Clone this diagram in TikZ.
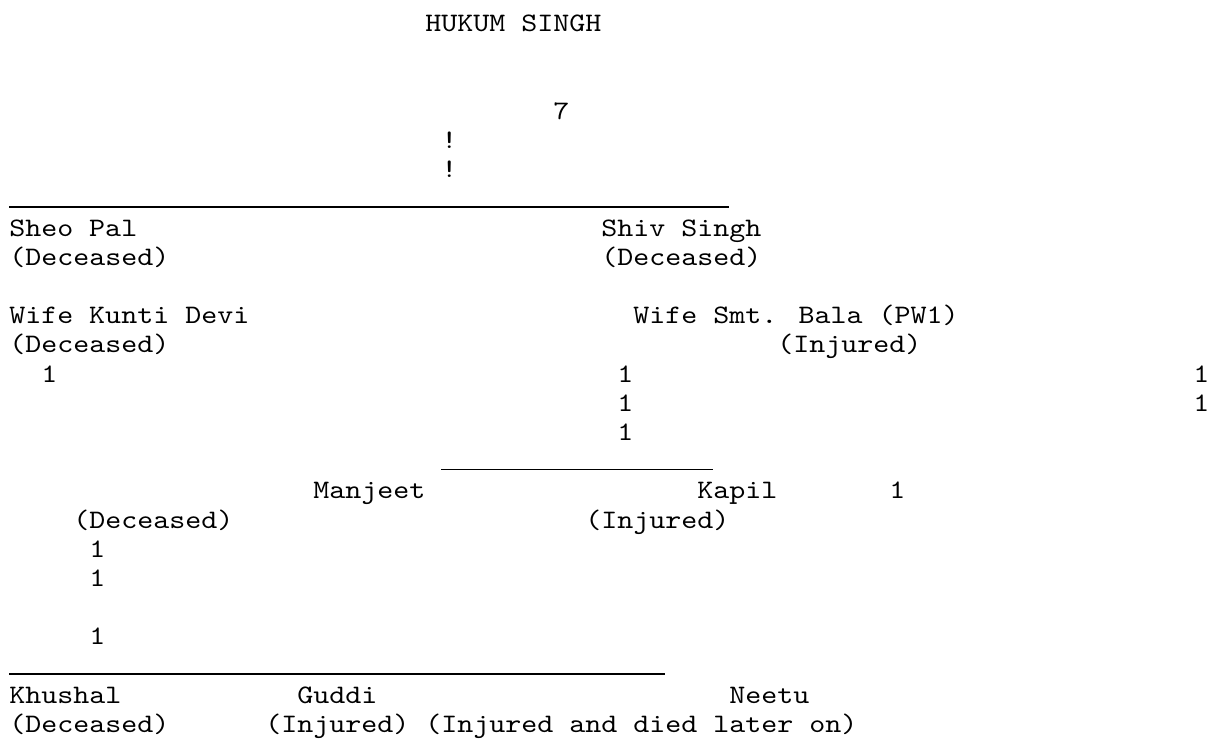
\documentclass[tikz,border=0pt]{standalone}
\usepackage{fontspec}
\newfontfamily\typewriter[FakeStretch=1.143]{lmmono10-regular.otf}
\tikzset{
  txt/.style={anchor=base west, inner sep=0pt, font=\typewriter\fontsize{20pt}{24pt}\selectfont},
  rule/.style={line width=1.1pt}
}
\begin{document}
\begin{tikzpicture}[x=12pt, y=-21.9pt]
  % one unit = one character column / one text row
  \useasboundingbox (-0.5625,-8.082) rectangle (75.1875,17.26);

  \node[txt] (hukum) at (26,-7) {HUKUM SINGH};
  \node[txt] (seven) at (34,-4) {7};
  \node[txt] (bang1) at (27,-3) {!};
  \node[txt] (bang2) at (27,-2) {!};

  \coordinate (top1) at (0,-1);
  \coordinate (top2) at (45,-1);
  \draw[rule] (top1) -- (top2);

  \node[txt] (sheopal) at (0,0) {Sheo Pal};
  \node[txt] (shivsingh) at (37,0) {Shiv Singh};
  \node[txt] (sheopaldec) at (0,1) {(Deceased)};
  \node[txt] (shivsinghdec) at (37,1) {(Deceased)};
  \node[txt] (kunti) at (0,3) {Wife Kunti Devi};
  \node[txt] (bala) at (39,3) {Wife Smt. Bala (PW1)};
  \node[txt] (kuntidec) at (0,4) {(Deceased)};
  \node[txt] (balainj) at (48,4) {(Injured)};

  % the vertical marks
  \foreach \c/\r [count=\i] in {2/5, 38/5, 38/6, 38/7, 74/5, 74/6, 55/9, 5/11, 5/12, 5/14}
    \node[txt] (one\i) at (\c,\r) {1};

  \coordinate (mid1) at (27,8);
  \coordinate (mid2) at (44,8);
  \draw[rule] (mid1) -- (mid2);

  \node[txt] (manjeet) at (19,9) {Manjeet};
  \node[txt] (kapil) at (43,9) {Kapil};
  \node[txt] (manjeetdec) at (4,10) {(Deceased)};
  \node[txt] (kapilinj) at (36,10) {(Injured)};

  \coordinate (low1) at (0,15);
  \coordinate (low2) at (41,15);
  \draw[rule] (low1) -- (low2);

  \node[txt] (khushal) at (0,16) {Khushal};
  \node[txt] (guddi) at (18,16) {Guddi};
  \node[txt] (neetu) at (45,16) {Neetu};
  \node[txt] (khushaldec) at (0,17) {(Deceased)};
  \node[txt] (guddiinj) at (16,17) {(Injured)};
  \node[txt] (neetuinj) at (26,17) {(Injured and died later on)};
\end{tikzpicture}
\end{document}
